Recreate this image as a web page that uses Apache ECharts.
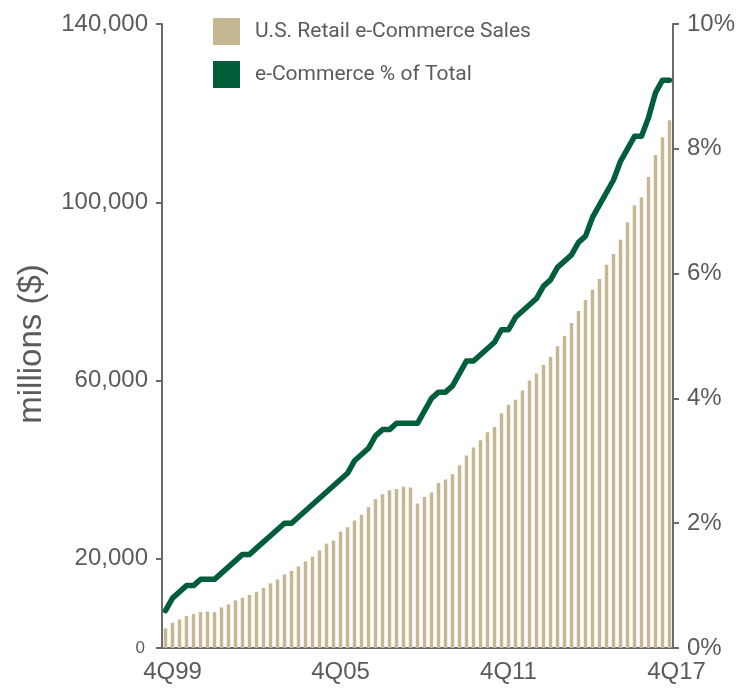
<!DOCTYPE html>
<html>
<head>
<meta charset="utf-8">
<script src="https://cdn.jsdelivr.net/npm/echarts@6/dist/echarts.min.js"></script>
<style>
  html, body { margin: 0; padding: 0; background: #fff; }
  #chart { width: 752px; height: 689px; }
</style>
</head>
<body>
<div id="chart"></div>
<script>
// quarters 4Q99 .. 4Q17
var quarters = []
for (var y = 1999, q = 4; y < 2018 && quarters.length < 73;) {
  quarters.push(q + 'Q' + String(y).slice(2))
  q++
  if (q > 4) { q = 1; y++ }
}
var tickLabels = ['4Q99', '4Q05', '4Q11', '4Q17']
var leftTicks = [0, 20000, 60000, 100000, 140000]

// U.S. Retail e-Commerce Sales, millions ($)
var sales = [
  4400, 5650, 6400, 7150, 7600, 8050, 8200, 8050, 9100, 9800,
  10700, 11300, 11900, 12600, 13500, 14500, 15400, 16500, 17300, 18300,
  19400, 20500, 21900, 23400, 24100, 26100, 27100, 28600, 29900, 31600,
  33400, 34500, 35400, 35700, 36200, 36000, 32400, 33900, 34900, 37000,
  37800, 39000, 41000, 43200, 45000, 46600, 48400, 49600, 52600, 54600,
  55700, 57800, 60000, 61600, 63500, 65300, 67700, 70000, 72900, 75600,
  78100, 80400, 82800, 86000, 88400, 91600, 95500, 99300, 101100, 105700,
  110600, 114600, 118400
]

// e-Commerce % of Total
var share = [
  0.6, 0.8, 0.9, 1.0, 1.0, 1.1, 1.1, 1.1, 1.2, 1.3,
  1.4, 1.5, 1.5, 1.6, 1.7, 1.8, 1.9, 2.0, 2.0, 2.1,
  2.2, 2.3, 2.4, 2.5, 2.6, 2.7, 2.8, 3.0, 3.1, 3.2,
  3.4, 3.5, 3.5, 3.6, 3.6, 3.6, 3.6, 3.8, 4.0, 4.1,
  4.1, 4.2, 4.4, 4.6, 4.6, 4.7, 4.8, 4.9, 5.1, 5.1,
  5.3, 5.4, 5.5, 5.6, 5.8, 5.9, 6.1, 6.2, 6.3, 6.5,
  6.6, 6.9, 7.1, 7.3, 7.5, 7.8, 8.0, 8.2, 8.2, 8.5,
  8.9, 9.1, 9.1
]

var gray = '#5b5b5b'
var axisGray = '#6a6a6a'
var font = '"Liberation Sans", Arial, sans-serif'

var chart = echarts.init(document.getElementById('chart'))
chart.setOption({
  animation: false,
  color: ['#c5b792', '#005e3b'],
  legend: {
    orient: 'vertical',
    left: 208,
    top: 13,
    itemWidth: 27,
    itemHeight: 27,
    itemGap: 16,
    selectedMode: false,
    textStyle: {
      color: gray,
      fontFamily: 'Roboto, sans-serif',
      fontSize: 21,
      padding: [0, 0, 0, 10]
    },
    data: [
      { name: 'U.S. Retail e-Commerce Sales', icon: 'rect' },
      { name: 'e-Commerce % of Total', icon: 'rect' }
    ]
  },
  grid: {
    left: 162,
    right: 79,
    top: 24,
    bottom: 41,
    containLabel: false
  },
  xAxis: {
    type: 'category',
    data: quarters,
    boundaryGap: true,
    axisLine: { lineStyle: { color: axisGray, width: 2 } },
    axisTick: {
      interval: 23,
      length: 6,
      lineStyle: { color: axisGray, width: 2 }
    },
    axisLabel: {
      interval: 23,
      margin: 12,
      color: gray,
      fontFamily: font,
      fontSize: 24,
      padding: [0, 0, 0, 14],
      formatter: function (v) {
        return tickLabels.indexOf(v) >= 0 ? v : ''
      }
    }
  },
  yAxis: [
    {
      type: 'value',
      min: 0,
      max: 140000,
      interval: 20000,
      name: 'millions ($)',
      nameLocation: 'middle',
      nameRotate: 90,
      nameGap: 114,
      nameTextStyle: {
        color: gray,
        fontFamily: font,
        fontSize: 33,
        padding: [0, 16, 0, 0]
      },
      splitLine: { show: false },
      axisLine: { show: true, lineStyle: { color: axisGray, width: 2 } },
      axisTick: {
        show: true,
        length: 6,
        customValues: leftTicks,
        lineStyle: { color: axisGray, width: 2 }
      },
      axisLabel: {
        margin: 14,
        color: gray,
        fontFamily: font,
        fontSize: 24,
        customValues: leftTicks,
        formatter: function (v) {
          if (v === 0) return '{s|0}'
          return echarts.format.addCommas(v)
        },
        rich: {
          s: { fontSize: 17, color: gray, fontFamily: font, padding: [0, 3, 0, 0] }
        }
      }
    },
    {
      type: 'value',
      min: 0,
      max: 10,
      interval: 2,
      position: 'right',
      splitLine: { show: false },
      axisLine: { show: true, lineStyle: { color: axisGray, width: 2 } },
      axisTick: { show: true, length: 6, lineStyle: { color: axisGray, width: 2 } },
      axisLabel: {
        margin: 14,
        color: gray,
        fontFamily: font,
        fontSize: 24,
        formatter: '{value}%'
      }
    }
  ],
  series: [
    {
      name: 'U.S. Retail e-Commerce Sales',
      type: 'bar',
      yAxisIndex: 0,
      barWidth: 3.5,
      data: sales
    },
    {
      name: 'e-Commerce % of Total',
      type: 'line',
      yAxisIndex: 1,
      showSymbol: false,
      symbol: 'none',
      lineStyle: { width: 5.5, cap: 'round', join: 'round' },
      data: share,
      z: 3
    }
  ]
})
</script>
</body>
</html>
